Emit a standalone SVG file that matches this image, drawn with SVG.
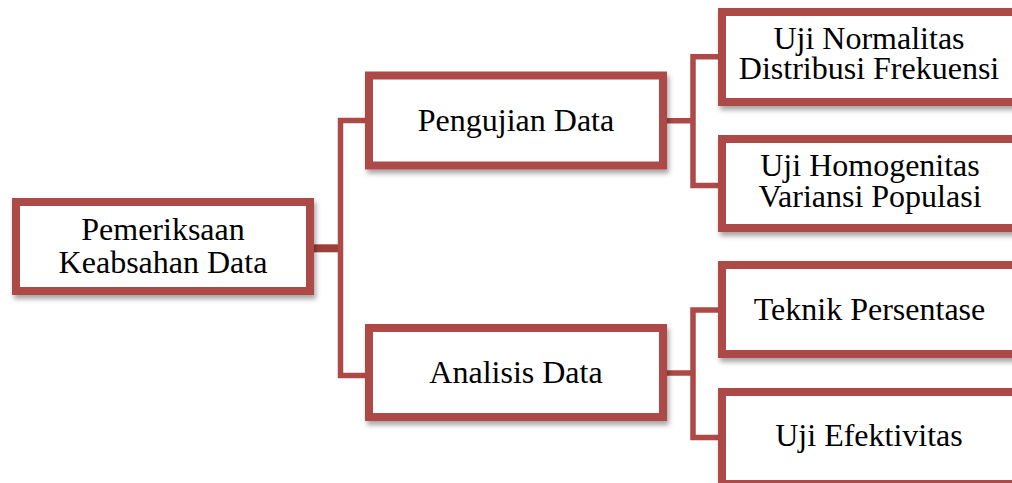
<svg xmlns="http://www.w3.org/2000/svg" width="1012" height="483" viewBox="0 0 1012 483">
<defs>
<filter id="sh" x="-10%" y="-20%" width="130%" height="150%">
<feDropShadow dx="2" dy="4" stdDeviation="2.5" flood-color="#000" flood-opacity="0.35"/>
</filter>
<style>
.box{fill:#fff;stroke:#AD4A47;stroke-width:8;filter:url(#sh)}
.c{fill:none;stroke:#AD4A47;stroke-width:5.5;stroke-linejoin:miter;stroke-linecap:butt}
.croot{fill:none;stroke:#9E3F3C;stroke-width:8}
text{font-family:"Liberation Serif","Times New Roman",serif;font-size:32px;fill:#000;text-anchor:middle}
</style>
</defs>
<rect width="1012" height="483" fill="#fff"/>
<g id="connectors">
<line class="croot" x1="314" y1="248.3" x2="342" y2="248.3"/>
<path class="c" d="M367 120.5 H340.5 V375.5 H367"/>
<path class="c" d="M666 120.7 H693 M720 56.7 H693 V185.5 H720"/>
<path class="c" d="M666 373 H693 M720 310 H693 V437.5 H720"/>
</g>
<g id="root">
<rect class="box" x="16" y="202" width="294" height="89"/>
<text x="163" y="240">Pemeriksaan</text>
<text x="163" y="272.5">Keabsahan Data</text>
</g>
<g id="pengujian">
<rect class="box" x="369" y="75.5" width="294" height="90"/>
<text x="516" y="130.5">Pengujian Data</text>
</g>
<g id="analisis">
<rect class="box" x="369" y="328" width="294" height="89"/>
<text x="516" y="382.5">Analisis Data</text>
</g>
<g id="normalitas">
<rect class="box" x="722" y="12" width="300" height="90"/>
<text x="869" y="48.5">Uji Normalitas</text>
<text x="869" y="79">Distribusi Frekuensi</text>
</g>
<g id="homogenitas">
<rect class="box" x="722" y="139" width="300" height="89"/>
<text x="870" y="176">Uji Homogenitas</text>
<text x="870" y="206.5">Variansi Populasi</text>
</g>
<g id="persentase">
<rect class="box" x="722" y="265" width="300" height="89"/>
<text x="869.5" y="320">Teknik Persentase</text>
</g>
<g id="efektivitas">
<rect class="box" x="722" y="392" width="300" height="92"/>
<text x="869" y="446">Uji Efektivitas</text>
</g>
</svg>
